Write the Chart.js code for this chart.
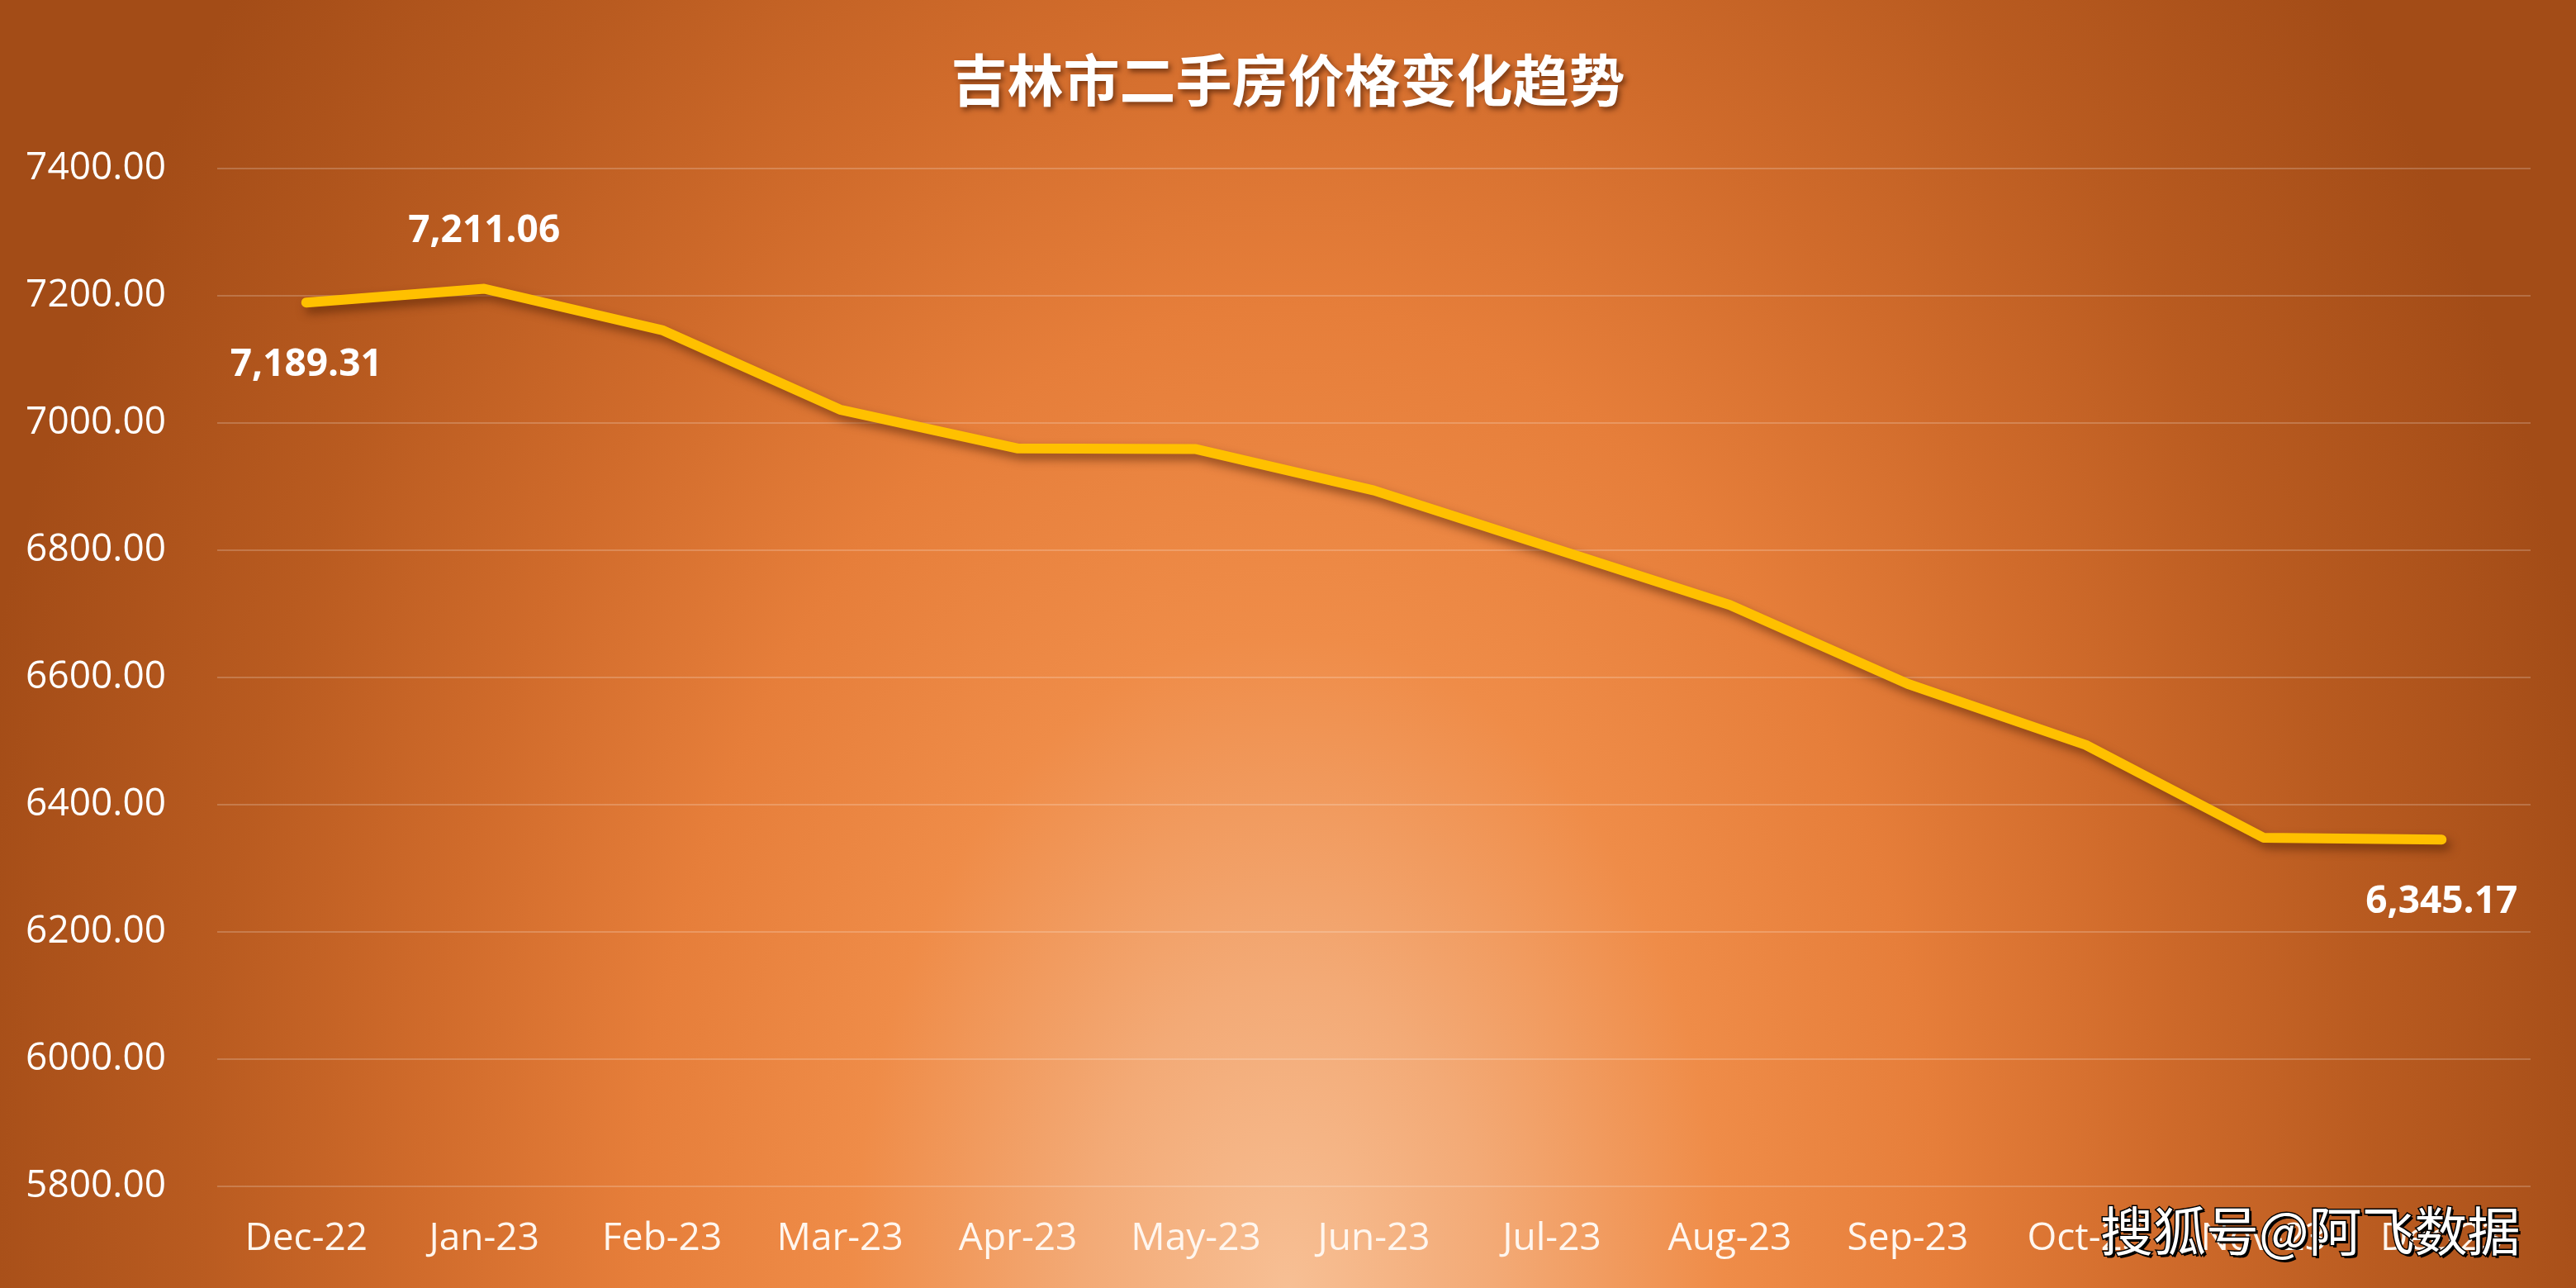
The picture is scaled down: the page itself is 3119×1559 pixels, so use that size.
<!DOCTYPE html>
<html>
<head>
<meta charset="utf-8">
<script src="https://cdn.jsdelivr.net/npm/chart.js@4.4.1/dist/chart.umd.min.js"></script>
<style>
    html, body { margin: 0; padding: 0; background: #a64f1a; overflow: hidden; }
</style>
</head>
<body>
<canvas id="priceChart" width="3119" height="1559"></canvas>
<script>
// data
const months = ['Dec-22', 'Jan-23', 'Feb-23', 'Mar-23', 'Apr-23', 'May-23', 'Jun-23',
    'Jul-23', 'Aug-23', 'Sep-23', 'Oct-23', 'Nov-23', 'Dec-23'];
const prices = [7189.31, 7211.06, 7146, 7021, 6960, 6959, 6894, 6804, 6714, 6590, 6494, 6348, 6345.17];
const yMin = 5800;
const yMax = 7400;
const yStep = 200;
const labelledPoints = [0, 1, 12];
const chartTitle = '吉林市二手房价格变化趋势';
const watermark = '搜狐号@阿飞数据';

const latinFont = '"Open Sans", "Noto Sans", sans-serif';
const cjkFont = '"Noto Sans CJK SC", "Noto Sans", sans-serif';

// orange radial backdrop, lighter towards the bottom centre
const backdrop = {
    id: 'backdrop',
    beforeDraw(chart) {
        const { ctx, width, height } = chart;
        ctx.save();
        ctx.translate(width / 2, height);
        ctx.scale(1, 1.5);
        const g = ctx.createRadialGradient(0, 0, 0, 0, 0, 1650);
        g.addColorStop(0, '#f7bf94');
        g.addColorStop(0.15, '#f3aa76');
        g.addColorStop(0.32, '#ef8c48');
        g.addColorStop(0.48, '#e67e3a');
        g.addColorStop(0.64, '#d06b2b');
        g.addColorStop(0.8, '#b95b20');
        g.addColorStop(1, '#a34c17');
        ctx.fillStyle = g;
        ctx.fillRect(-width, -height * 2, width * 2, height * 3);
        ctx.restore();
    }
};

// soft drop shadow under the line
const lineShadow = {
    id: 'lineShadow',
    beforeDatasetsDraw(chart) {
        const ctx = chart.ctx;
        ctx.save();
        ctx.shadowColor = 'rgba(70, 25, 0, 0.55)';
        ctx.shadowBlur = 12;
        ctx.shadowOffsetX = 5;
        ctx.shadowOffsetY = 7;
    },
    afterDatasetsDraw(chart) {
        chart.ctx.restore();
    }
};

// value labels on first, second and last point
const pointLabels = {
    id: 'pointLabels',
    afterDatasetsDraw(chart) {
        const ctx = chart.ctx;
        const meta = chart.getDatasetMeta(0);
        ctx.save();
        ctx.font = 'bold 46px ' + latinFont;
        ctx.fillStyle = '#ffffff';
        ctx.textAlign = 'center';
        ctx.textBaseline = 'middle';
        labelledPoints.forEach(i => {
            const pt = meta.data[i];
            const text = prices[i].toLocaleString('en-US', { minimumFractionDigits: 2, maximumFractionDigits: 2 });
            const dy = i === 1 ? -70 : 76;
            ctx.fillText(text, pt.x, pt.y + dy);
        });
        ctx.restore();
    }
};

// title with shadow and the watermark
const decorations = {
    id: 'decorations',
    afterDraw(chart) {
        const ctx = chart.ctx;
        ctx.save();
        ctx.font = 'bold 68px ' + cjkFont;
        ctx.textAlign = 'center';
        ctx.textBaseline = 'middle';
        ctx.shadowColor = 'rgba(60, 20, 0, 0.6)';
        ctx.shadowBlur = 6;
        ctx.shadowOffsetX = 3;
        ctx.shadowOffsetY = 4;
        ctx.fillStyle = '#ffffff';
        ctx.fillText(chartTitle, chart.width / 2, 97);
        ctx.restore();

        ctx.save();
        ctx.font = '64px ' + cjkFont;
        ctx.textAlign = 'left';
        ctx.textBaseline = 'middle';
        ctx.fillStyle = '#000000';
        ctx.fillText(watermark, 2546, 1493);
        ctx.lineWidth = 3;
        ctx.strokeStyle = '#000000';
        ctx.strokeText(watermark, 2543, 1490);
        ctx.fillStyle = '#ffffff';
        ctx.fillText(watermark, 2543, 1490);
        ctx.restore();
    }
};

new Chart(document.getElementById('priceChart'), {
    type: 'line',
    data: {
        labels: months,
        datasets: [{
            data: prices,
            borderColor: '#ffc000',
            borderWidth: 12,
            borderCapStyle: 'round',
            borderJoinStyle: 'round',
            pointRadius: 0,
            tension: 0,
            fill: false
        }]
    },
    options: {
        responsive: false,
        animation: false,
        devicePixelRatio: 1,
        layout: { padding: { top: 204, right: 55, bottom: 0, left: 0 } },
        plugins: {
            legend: { display: false },
            title: { display: false },
            tooltip: { enabled: false }
        },
        scales: {
            x: {
                offset: true,
                grid: { display: false, drawTicks: false },
                border: { display: false },
                ticks: {
                    color: '#fff6ee',
                    font: { family: latinFont, size: 46 },
                    padding: 36,
                    maxRotation: 0,
                    autoSkip: false
                },
                afterFit(scale) { scale.height = 123; }
            },
            y: {
                min: yMin,
                max: yMax,
                grid: { color: 'rgba(255, 255, 255, 0.2)', lineWidth: 2, drawTicks: false },
                border: { display: false },
                ticks: {
                    stepSize: yStep,
                    color: '#ffffff',
                    font: { family: latinFont, size: 46 },
                    padding: 62,
                    callback: v => v.toFixed(2)
                },
                afterFit(scale) { scale.width = 263; }
            }
        }
    },
    plugins: [backdrop, lineShadow, pointLabels, decorations]
});
</script>
</body>
</html>
